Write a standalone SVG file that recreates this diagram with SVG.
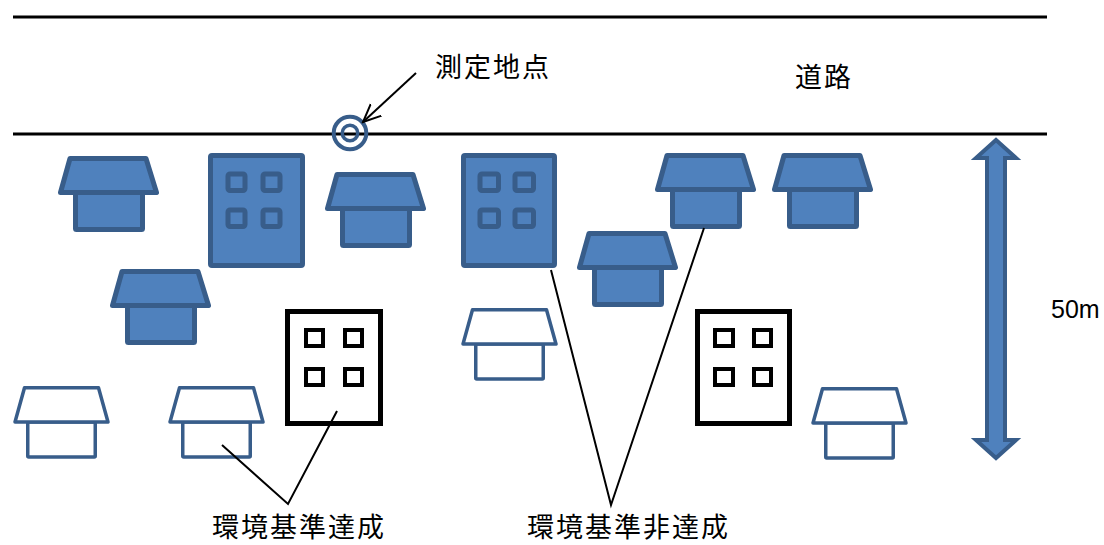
<svg xmlns="http://www.w3.org/2000/svg" width="1104" height="545" viewBox="0 0 1104 545">
  <style>
    .f { fill: #4F81BD; stroke: #385D8A; stroke-width: 5; stroke-linejoin: round; }
    .o { fill: #FFFFFF; stroke: #385D8A; stroke-width: 3.5; stroke-linejoin: round; }
    .ob { fill: #FFFFFF; stroke: #000000; stroke-width: 5; }
    .obw { fill: none; stroke: #000000; stroke-width: 4; }
    .road { stroke: #000000; stroke-width: 3; fill: none; }
    .conn { stroke: #000000; stroke-width: 2; fill: none; }
    .t { font-family: "Noto Sans CJK JP", "Noto Sans", sans-serif; font-size: 27px; letter-spacing: 2px; fill: #000000; }
    .n { font-family: "Liberation Sans", Arial, sans-serif; font-size: 25px; fill: #000000; }
  </style>
  <defs>
    <g id="houseF">
      <rect x="17.5" y="36.5" width="67" height="37" rx="1" class="f"/>
      <path d="M 12,2.5 L 88,2.5 L 98.5,36.5 L 2.5,36.5 Z" class="f"/>
    </g>
    <g id="houseO">
      <rect x="14.75" y="36" width="67.5" height="35" rx="1" class="o"/>
      <path d="M 11.5,1.75 L 85.5,1.75 L 95,36 L 2,36 Z" class="o"/>
    </g>
    <marker id="openArrow" viewBox="0 0 20 20" refX="18" refY="10" markerWidth="20" markerHeight="20" markerUnits="userSpaceOnUse" orient="auto">
      <path d="M 0,2 L 18,10 L 0,18" fill="none" stroke="#000000" stroke-width="2"/>
    </marker>
  </defs>

  <g id="road">
    <line x1="13" y1="17" x2="1047" y2="17" class="road"/>
    <line x1="13" y1="134" x2="1047" y2="134" class="road"/>
    <text x="795" y="87" class="t">道路</text>
  </g>

  <g id="house-1"><use href="#houseF" x="58" y="156"/></g>
  <g id="house-2"><use href="#houseF" x="110" y="269"/></g>
  <g id="house-3"><use href="#houseF" x="325" y="172"/></g>
  <g id="house-4"><use href="#houseF" x="577" y="231"/></g>
  <g id="house-5"><use href="#houseF" x="655" y="153"/></g>
  <g id="house-6"><use href="#houseF" x="772" y="153"/></g>

  <g id="building-1">
    <rect x="210.5" y="155.5" width="92" height="110" rx="1.5" class="f"/>
    <rect x="228" y="174" width="17" height="16.5" rx="2" class="f"/>
    <rect x="263" y="174" width="17" height="16.5" rx="2" class="f"/>
    <rect x="228" y="210" width="17" height="16.5" rx="2" class="f"/>
    <rect x="263" y="210" width="17" height="16.5" rx="2" class="f"/>
  </g>
  <g id="building-2">
    <rect x="463.5" y="155.5" width="91" height="110" rx="1.5" class="f"/>
    <rect x="480" y="174" width="18.5" height="16.5" rx="2" class="f"/>
    <rect x="515" y="174" width="18.5" height="16.5" rx="2" class="f"/>
    <rect x="480" y="210" width="18.5" height="16.5" rx="2" class="f"/>
    <rect x="515" y="210" width="18.5" height="16.5" rx="2" class="f"/>
  </g>

  <g id="house-a"><use href="#houseO" x="13" y="386"/></g>
  <g id="house-b"><use href="#houseO" x="168" y="386"/></g>
  <g id="house-c"><use href="#houseO" x="461" y="308"/></g>
  <g id="house-d"><use href="#houseO" x="811" y="387"/></g>

  <g id="building-x">
    <rect x="287.5" y="311.5" width="93" height="112" class="ob"/>
    <rect x="306" y="330" width="17" height="16" class="obw"/>
    <rect x="345" y="330" width="17" height="16" class="obw"/>
    <rect x="306" y="369" width="17" height="16" class="obw"/>
    <rect x="345" y="369" width="17" height="16" class="obw"/>
  </g>
  <g id="building-y">
    <rect x="697.5" y="311.5" width="92" height="112" class="ob"/>
    <rect x="715" y="330" width="18" height="16" class="obw"/>
    <rect x="754" y="330" width="17" height="16" class="obw"/>
    <rect x="715" y="369" width="18" height="16" class="obw"/>
    <rect x="754" y="369" width="17" height="16" class="obw"/>
  </g>

  <g id="measurement-point">
    <circle cx="350" cy="133" r="16.3" fill="none" stroke="#385D8A" stroke-width="4"/>
    <circle cx="350" cy="133" r="7.75" fill="none" stroke="#385D8A" stroke-width="3.5"/>
  </g>

  <g id="scale-arrow">
    <path d="M 996,140 L 1016,158 L 1005,158 L 1005,440 L 1016,440 L 996,458 L 976,440 L 987,440 L 987,158 L 976,158 Z" fill="#4F81BD" stroke="#385D8A" stroke-width="4" stroke-linejoin="miter"/>
    <text x="1051" y="318" class="n">50m</text>
  </g>

  <g id="label-measure"><text x="435" y="77" class="t">測定地点</text></g>
  <g id="label-ok"><text x="212" y="537" class="t">環境基準達成</text></g>
  <g id="label-ng"><text x="527" y="537" class="t">環境基準非達成</text></g>

  <g id="connectors">
    <line x1="416" y1="73" x2="363" y2="122" class="conn" marker-end="url(#openArrow)"/>
    <polyline points="222,445 288,504 337,411" class="conn"/>
    <polyline points="551,270 611,505 704,228" class="conn"/>
  </g>
</svg>
